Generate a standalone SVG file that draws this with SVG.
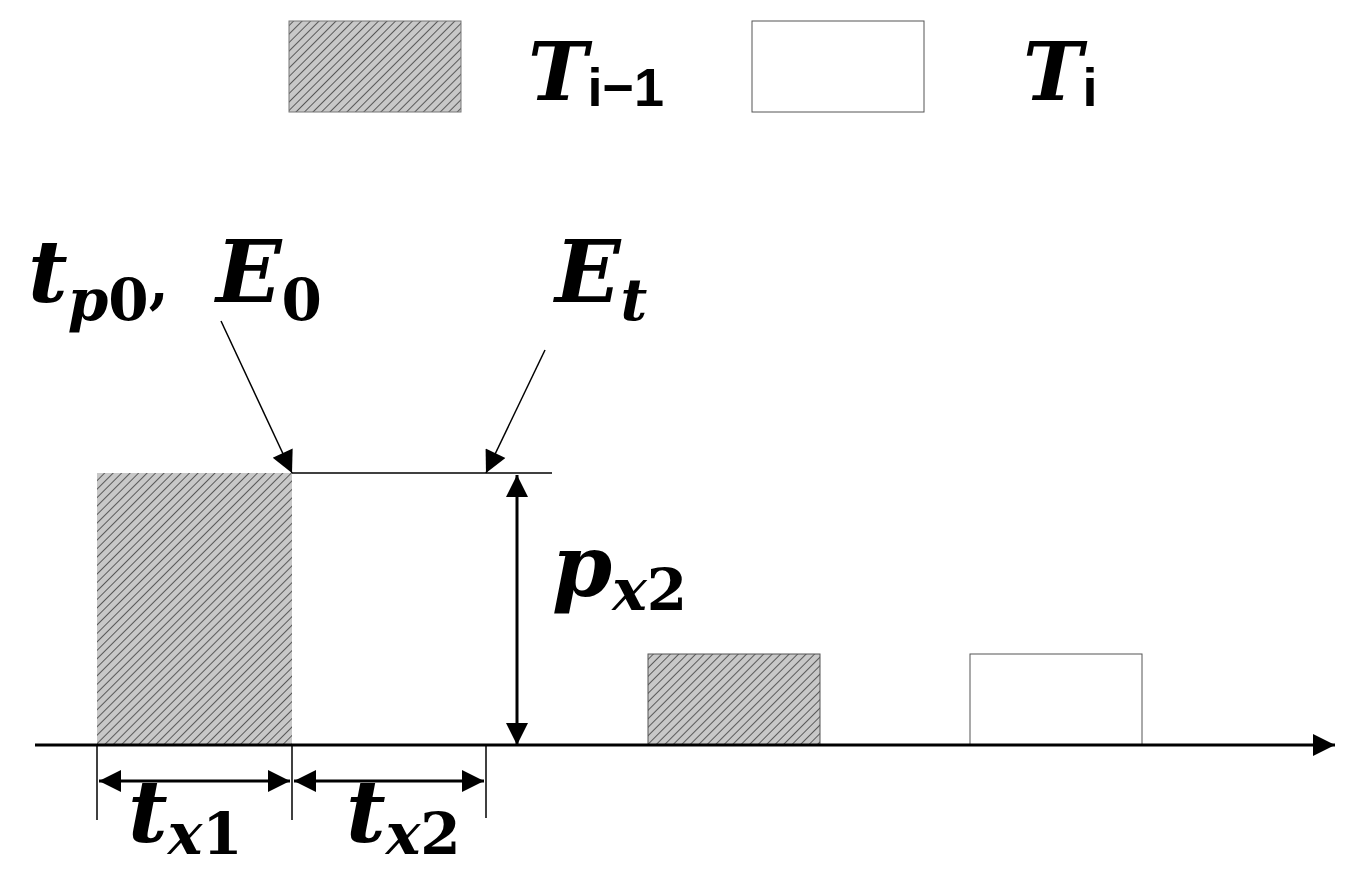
<svg xmlns="http://www.w3.org/2000/svg" width="1358" height="886" viewBox="0 0 1358 886">
<defs>
<pattern id="hatch" width="6" height="6" patternUnits="userSpaceOnUse" patternTransform="rotate(45)">
<rect width="6" height="6" fill="#c8c8c8"/>
<line x1="0" y1="0" x2="0" y2="6" stroke="#333" stroke-width="1.5"/>
</pattern>
<marker id="big" viewBox="0 0 10 10" refX="10" refY="5" markerWidth="28" markerHeight="22" markerUnits="userSpaceOnUse" orient="auto-start-reverse">
<path d="M0,0 L10,5 L0,10 z" fill="#000"/>
</marker>
</defs>
<style>
.m{font-family:"DejaVu Serif",serif;font-weight:bold;font-style:italic;fill:#000}
.d{font-style:normal}
.u{font-family:"Liberation Sans",sans-serif;font-weight:bold;font-style:normal;fill:#000}
.ln{stroke:#000;stroke-width:1.5;fill:none}
.dim{stroke:#000;stroke-width:3;fill:none}
</style>
<g id="legend-prev"><rect x="289" y="21" width="172" height="91" fill="url(#hatch)" stroke="#777" stroke-width="1"/>
<text x="528" y="100" class="m" font-size="80">T<tspan class="u" font-size="54" dy="6">i−1</tspan></text></g>
<g id="legend-cur"><rect x="752" y="21" width="172" height="91" fill="#fff" stroke="#555" stroke-width="1"/>
<text x="1023" y="100" class="m" font-size="80">T<tspan class="u" font-size="54" dy="6">i</tspan></text></g>
<g id="block1"><rect x="97" y="473" width="195" height="272" fill="url(#hatch)"/></g>
<g id="block2"><rect x="648" y="654" width="172" height="91" fill="url(#hatch)" stroke="#555" stroke-width="1"/></g>
<g id="block3"><rect x="970" y="654" width="172" height="91" fill="#fff" stroke="#555" stroke-width="1"/></g>
<g id="labels">
<text x="28" y="302" class="m" font-size="86">t<tspan font-size="58" dy="18">p</tspan><tspan class="d" font-size="58">0</tspan><tspan class="d" font-size="58" dy="-18">,</tspan></text>
<text x="216" y="302" class="m" font-size="86">E<tspan class="d" font-size="58" dy="18">0</tspan></text>
<text x="555" y="302" class="m" font-size="86">E<tspan font-size="58" dy="18">t</tspan></text>
<text x="552" y="596" class="m" font-size="86">p<tspan font-size="58" dy="14">x</tspan><tspan class="d" font-size="58">2</tspan></text>
<text x="128" y="842" class="m" font-size="86">t<tspan font-size="58" dy="12">x</tspan><tspan class="d" font-size="58">1</tspan></text>
<text x="346" y="842" class="m" font-size="86">t<tspan font-size="58" dy="12">x</tspan><tspan class="d" font-size="58">2</tspan></text>
</g>
<g id="connectors">
<line x1="35" y1="745" x2="1335" y2="745" class="dim" stroke-width="2" marker-end="url(#big)"/>
<line x1="292" y1="473" x2="552" y2="473" class="ln"/>
<line x1="97" y1="745" x2="97" y2="820" class="ln"/>
<line x1="292" y1="745" x2="292" y2="820" class="ln"/>
<line x1="486" y1="745" x2="486" y2="818" class="ln"/>
<line x1="99" y1="781" x2="290" y2="781" class="dim" marker-start="url(#big)" marker-end="url(#big)"/>
<line x1="294" y1="781" x2="484" y2="781" class="dim" marker-start="url(#big)" marker-end="url(#big)"/>
<line x1="517" y1="475" x2="517" y2="745" class="dim" stroke-width="2" marker-start="url(#big)" marker-end="url(#big)"/>
<line x1="221" y1="321" x2="292" y2="473" class="ln" stroke-width="2" marker-end="url(#big)"/>
<line x1="545" y1="350" x2="486" y2="473" class="ln" stroke-width="2" marker-end="url(#big)"/>
</g>
</svg>
